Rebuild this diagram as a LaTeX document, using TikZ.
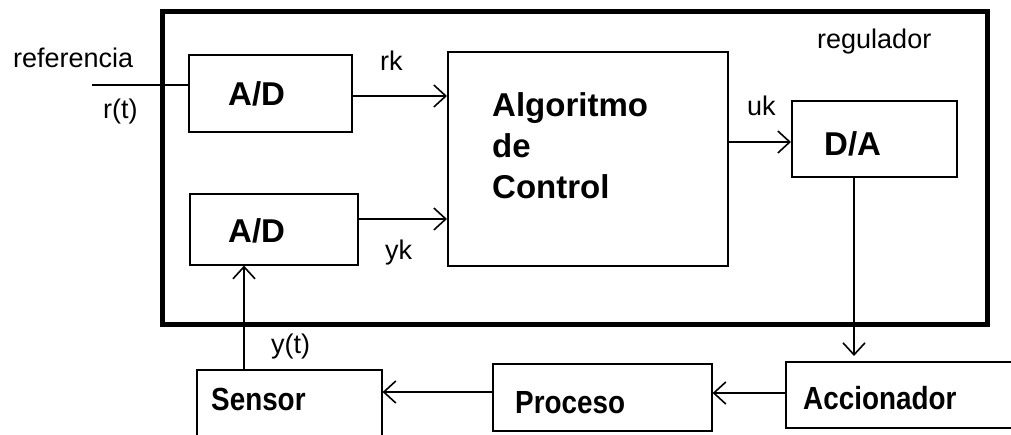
\documentclass[tikz,border=0pt]{standalone}
\usepackage{fontspec}
\setmainfont{Liberation Sans}
\newfontfamily\narrowbold[FakeStretch=0.87]{Liberation Sans Bold}
\usetikzlibrary{arrows.meta}
\begin{document}
\begin{tikzpicture}[x=1pt,y=-1pt,
  blk/.style={draw, line width=1.6pt, inner sep=0pt, anchor=north west},
  lbl/.style={font=\fontsize{27}{27}\selectfont, inner sep=0pt, anchor=base west},
  blbl/.style={font=\fontsize{33}{33}\selectfont\bfseries, inner sep=0pt, anchor=base west},
  slbl/.style={font=\fontsize{32}{32}\narrowbold, inner sep=0pt, anchor=base west},
  wire/.style={line width=1.6pt},
  sig/.style={wire, -{Straight Barb[length=12pt,width=22pt,line width=1.6pt]}}
]
\useasboundingbox (0,0) rectangle (1011,434);

% controller enclosure
\node[draw, line width=5pt, inner sep=0pt, anchor=north west,
      minimum width=825pt, minimum height=313pt] (reg) at (160,9) {};
\node[lbl] (tReg) at (817,48) {regulador};

% blocks
\node[blk, minimum width=163pt, minimum height=77pt] (AD1) at (188,54) {};
\node[blk, minimum width=168pt, minimum height=71pt] (AD2) at (189,193) {};
\node[blk, minimum width=280pt, minimum height=214pt] (Alg) at (447,51) {};
\node[blk, minimum width=165pt, minimum height=76pt] (DA) at (791,100) {};
\node[blk, minimum width=185pt, minimum height=70pt] (Sen) at (196,369) {};
\node[blk, minimum width=219pt, minimum height=67pt] (Pro) at (492,363) {};
\node[blk, minimum width=240pt, minimum height=66pt] (Acc) at (785,361) {};

% block captions
\node[blbl] (tAD1) at (228,105) {A/D};
\node[blbl] (tAD2) at (228,242) {A/D};
\node[blbl] (tAlg1) at (492,116) {Algoritmo};
\node[blbl] (tAlg2) at (492,157) {de};
\node[blbl] (tAlg3) at (492,198) {Control};
\node[blbl] (tDA) at (824,155) {D/A};
\node[slbl] (tSen) at (211,410) {Sensor};
\node[slbl] (tPro) at (515,413) {Proceso};
\node[slbl] (tAcc) at (803,409) {Accionador};

% signal names
\node[lbl] (tRef) at (13,67) {referencia};
\node[lbl] (tRt) at (103,118) {r(t)};
\node[lbl] (tRk) at (380,70) {rk};
\node[lbl] (tYk) at (385,259) {yk};
\node[lbl] (tUk) at (747,115) {uk};
\node[lbl] (tYt) at (271,353) {y(t)};

% routing levels
\coordinate (rin) at (92,85);
\coordinate (yrk) at (0,96);
\coordinate (yyk) at (0,219);
\coordinate (yuk) at (0,142);
\coordinate (xda) at (854,0);
\coordinate (yac) at (0,393);
\coordinate (ypr) at (0,392);
\coordinate (xse) at (244,0);

% connections
\draw[wire] (rin) -- (rin -| AD1.west);
\draw[sig] (AD1.east |- yrk) -- (Alg.west |- yrk);
\draw[sig] (AD2.east |- yyk) -- (Alg.west |- yyk);
\draw[sig] (Alg.east |- yuk) -- (DA.west |- yuk);
\draw[sig, shorten >=5pt] (DA.south -| xda) -- (Acc.north -| xda);
\draw[sig] (Acc.west |- yac) -- (Pro.east |- yac);
\draw[sig] (Pro.west |- ypr) -- (Sen.east |- ypr);
\draw[sig] (Sen.north -| xse) -- (AD2.south -| xse);
\end{tikzpicture}
\end{document}
